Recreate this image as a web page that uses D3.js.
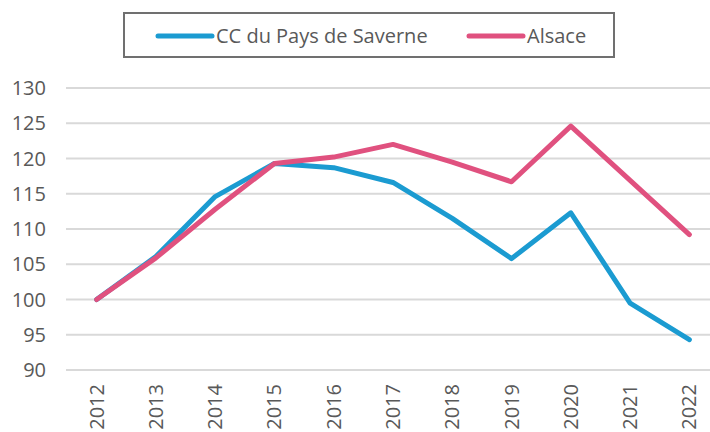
<!DOCTYPE html>
<html lang="fr">
<head>
<meta charset="UTF-8">
<title>CC du Pays de Saverne / Alsace</title>
<script src="https://d3js.org/d3.v7.min.js"></script>
<style>
  body { margin: 0; background: #fff; }
  .label { font-family: "Open Sans", sans-serif; fill: #595959; }
</style>
</head>
<body>
<div id="chart"></div>
<script>
// data
var years = ["2012", "2013", "2014", "2015", "2016", "2017", "2018", "2019", "2020", "2021", "2022"];
var saverne = [100, 106.1, 114.6, 119.3, 118.7, 116.6, 111.5, 105.8, 112.3, 99.5, 94.3];
var alsace = [100, 105.9, 112.8, 119.3, 120.2, 122.0, 119.5, 116.7, 124.6, 116.9, 109.2];
var yTicks = [90, 95, 100, 105, 110, 115, 120, 125, 130];
var seriesNames = ["CC du Pays de Saverne", "Alsace"];
var seriesColors = ["#1b9bd1", "#e0517f"];

var width = 710, height = 432;

var svg = d3.select("#chart").append("svg")
    .attr("width", width)
    .attr("height", height);

var x = d3.scalePoint()
    .domain(years)
    .range([67, 719])
    .padding(0.5);

var y = d3.scaleLinear()
    .domain([90, 130])
    .range([370, 88]);

// gridlines
svg.append("g")
  .selectAll("line")
  .data(yTicks)
  .enter().append("line")
    .attr("x1", 66)
    .attr("x2", width)
    .attr("y1", function(d) { return y(d); })
    .attr("y2", function(d) { return y(d); })
    .style("stroke", "#d9d9d9")
    .style("stroke-width", 2);

// y labels
svg.append("g")
  .selectAll("text")
  .data(yTicks)
  .enter().append("text")
    .attr("class", "label")
    .attr("x", 46)
    .attr("y", function(d) { return y(d); })
    .attr("dy", ".35em")
    .attr("text-anchor", "end")
    .style("font-size", "20px")
    .text(function(d) { return d; });

// x labels (rotated)
svg.append("g")
  .selectAll("text")
  .data(years)
  .enter().append("text")
    .attr("class", "label")
    .attr("transform", function(d) { return "translate(" + x(d) + ",384) rotate(-90)"; })
    .attr("dy", ".35em")
    .attr("text-anchor", "end")
    .style("font-size", "20px")
    .text(function(d) { return d; });

// lines
var line = d3.line()
    .x(function(d, i) { return x(years[i]); })
    .y(function(d) { return y(d); });

[saverne, alsace].forEach(function(vals, i) {
  svg.append("path")
    .datum(vals)
    .attr("d", line)
    .style("fill", "none")
    .style("stroke", seriesColors[i])
    .style("stroke-width", 5)
    .style("stroke-linejoin", "round")
    .style("stroke-linecap", "round");
});

// legend
var legend = svg.append("g");
legend.append("rect")
    .attr("x", 124)
    .attr("y", 13)
    .attr("width", 490)
    .attr("height", 44)
    .style("fill", "#fff")
    .style("stroke", "#707070")
    .style("stroke-width", 2);

var legendX = [158, 469];
seriesNames.forEach(function(name, i) {
  legend.append("line")
    .attr("x1", legendX[i])
    .attr("x2", legendX[i] + 54)
    .attr("y1", 36)
    .attr("y2", 36)
    .style("stroke", seriesColors[i])
    .style("stroke-width", 5)
    .style("stroke-linecap", "round");
  legend.append("text")
    .attr("class", "label")
    .attr("x", legendX[i] + 58)
    .attr("y", 36)
    .attr("dy", ".35em")
    .style("font-size", "20px")
    .text(name);
});
</script>
</body>
</html>
